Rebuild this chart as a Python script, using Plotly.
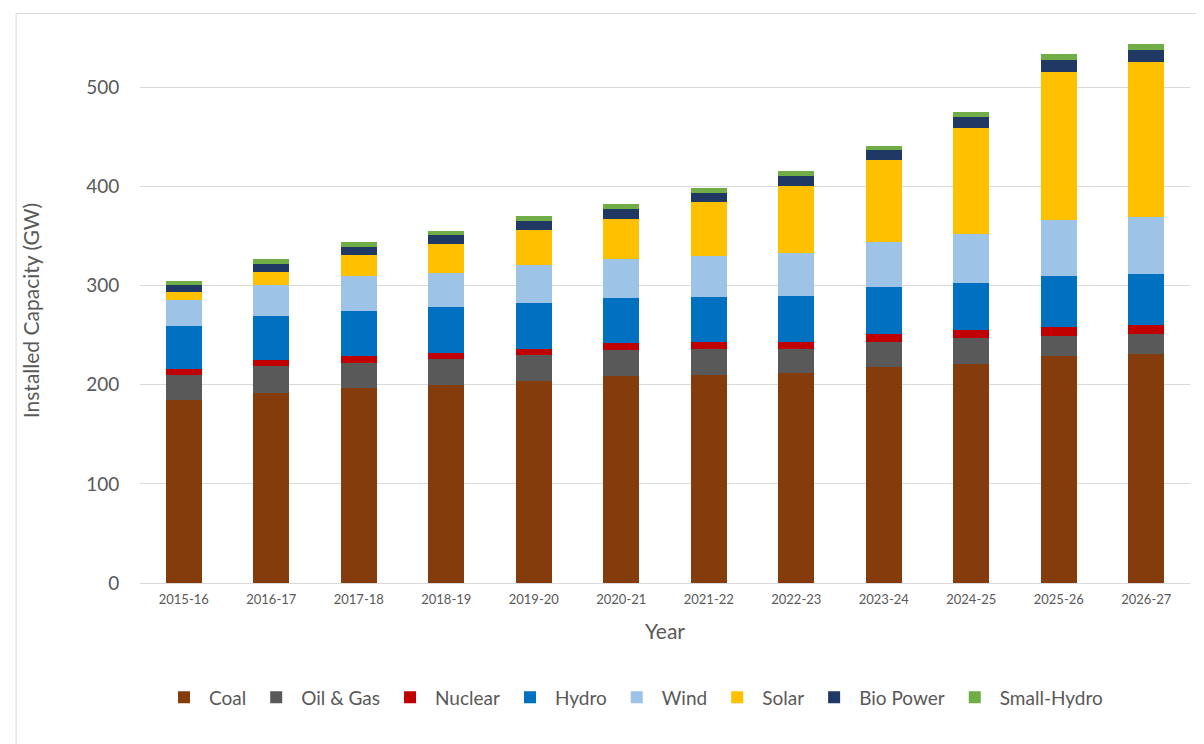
import plotly.graph_objects as go

years = ["2015-16","2016-17","2017-18","2018-19","2019-20","2020-21","2021-22","2022-23","2023-24","2024-25","2025-26","2026-27"]
coal = [185,192,197,200,204,209,210,212,217.5,221.5,228.7,230.7]
oil_gas = [25,26.5,25.5,26.5,26.5,26,26,24.5,25.5,25.5,20.3,20.3]
nuclear = [6,6.5,7,6,6,7,7,7,8,8,9,9]
hydro = [43,44,44.5,46,46,45.5,45.5,46.5,47.5,48,52,52]
wind = [27,32,36,34.5,38.5,39.5,41.5,43.5,45.5,49.5,56,57]
solar = [8,13,21,29.5,35,40,54,67,82.5,106.5,150,156.5]
bio = [7,8,8,9,9,10,10,10.5,10,11.5,11.5,12]
small_hydro = [4,5,5,4,5,5,5,5,5,5,6,6]

series = [("Coal",coal,"#843C0C"),("Oil & Gas",oil_gas,"#595959"),("Nuclear",nuclear,"#C00000"),
          ("Hydro",hydro,"#0070C0"),("Wind",wind,"#9DC3E6"),("Solar",solar,"#FFC000"),
          ("Bio Power",bio,"#203864"),("Small-Hydro",small_hydro,"#70AD47")]

fig = go.Figure()
for name, vals, col in series:
    fig.add_trace(go.Bar(x=years, y=vals, name=name, marker=dict(color=col, line=dict(width=0)), width=0.41))

fig.update_layout(
    barmode="stack", width=1204, height=744, paper_bgcolor="white", plot_bgcolor="white",
    margin=dict(l=132, r=22, t=30, b=169),
    font=dict(family="Lato, Open Sans, sans-serif", color="#595959"),
    xaxis=dict(title=dict(text="Year", font=dict(size=21), standoff=18), tickfont=dict(size=13),
               showline=True, linecolor="#D9D9D9", ticks="outside", ticklen=4, tickcolor="white"),
    yaxis=dict(title=dict(text="Installed Capacity (GW)", font=dict(size=21), standoff=40), range=[0,550], dtick=100,
               tickfont=dict(size=19), gridcolor="#D9D9D9", zeroline=False, ticks="outside", ticklen=16, tickcolor="white"),
    legend=dict(orientation="h", x=0.47, xanchor="center", y=-0.175, yanchor="top", font=dict(size=19),
                traceorder="normal", itemwidth=40),
    shapes=[dict(type="rect", xref="paper", yref="paper", x0=-0.118, x1=1.012, y0=-0.3, y1=1.045,
                 line=dict(color="#D9D9D9", width=1))]
)
fig.write_html("out.html")
